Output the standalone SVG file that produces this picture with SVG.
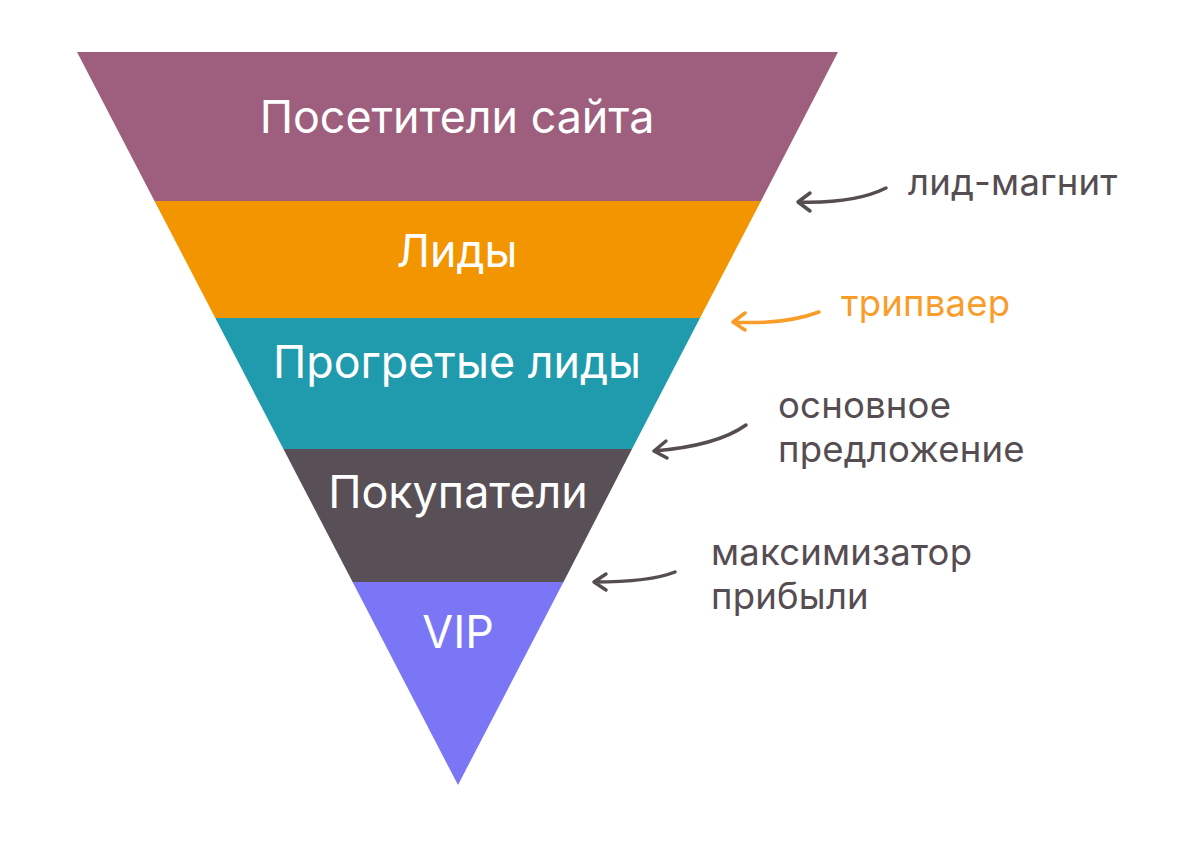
<svg xmlns="http://www.w3.org/2000/svg" width="1183" height="851" viewBox="0 0 1183 851">
<style>
.main{font-family:Inter,"Noto Sans",sans-serif;font-size:44.8px;fill:#ffffff;text-anchor:middle}
.side{font-family:Inter,"Noto Sans",sans-serif;font-size:36.5px;letter-spacing:0.2px;fill:#554D52}
.arr{fill:none;stroke:#554D52;stroke-width:3.5;stroke-linecap:round;stroke-linejoin:round}
</style>
<rect width="1183" height="851" fill="#ffffff"/>
<g id="band-visitors"><polygon points="77,52 838,52 761,201 154.5,201" fill="#9E5F7E"/><text class="main" x="457" y="133">Посетители сайта</text></g>
<g id="band-leads"><polygon points="154.5,201 761,201 700,318 215.3,318" fill="#F29500"/><text class="main" x="457" y="267">Лиды</text></g>
<g id="band-warm"><polygon points="215.3,318 700,318 632,449 283.4,449" fill="#1F9BAD"/><text class="main" x="457" y="378">Прогретые лиды</text></g>
<g id="band-buyers"><polygon points="283.4,449 632,449 563.5,582 352.6,582" fill="#594F56"/><text class="main" x="458" y="508">Покупатели</text></g>
<g id="band-vip"><polygon points="352.6,582 563.5,582 458,785" fill="#7B76F5"/><text class="main" x="458" y="648">VIP</text></g>
<g id="label-leadmagnet"><text class="side" x="908" y="195">лид-магнит</text></g>
<g id="label-tripwire"><text class="side" x="841" y="316" style="fill:#F99D2A">трипваер</text></g>
<g id="label-core"><text class="side" x="778" y="418">основное</text><text class="side" x="778" y="462">предложение</text></g>
<g id="label-max"><text class="side" x="711" y="565">максимизатор</text><text class="side" x="711" y="609">прибыли</text></g>
<g id="connectors">
<path class="arr" d="M886,188 C862,200 830,203 798,202 M810,193 L798,202 L810,211"/>
<path class="arr" d="M819,312 C795,321 765,324 733,322 M745,313 L733,322 L745,330" style="stroke:#F99D2A"/>
<path class="arr" d="M746,425 C725,440 690,448 654,451 M666,441 L654,451 L667,458"/>
<path class="arr" d="M675,572 C655,580 625,582 594,582 M606,574 L594,582 L606,590"/>
</g>
</svg>
